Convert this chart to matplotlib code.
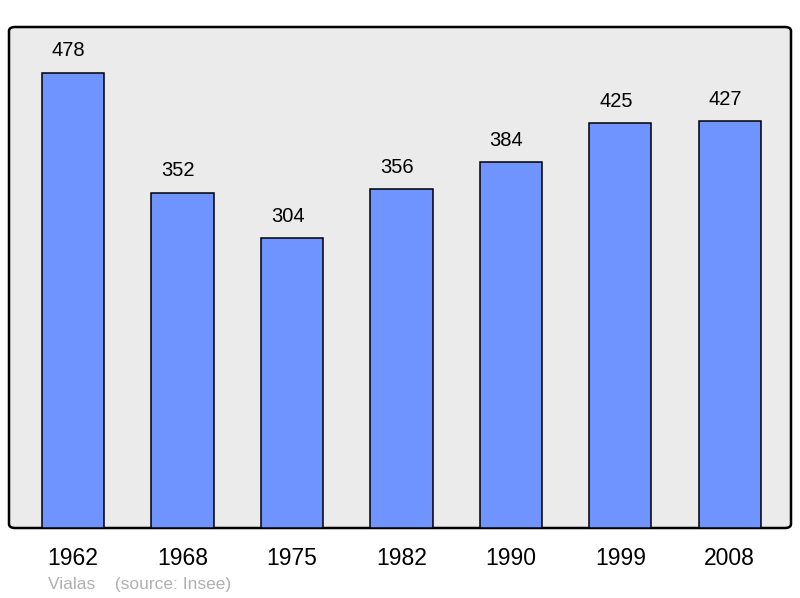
import matplotlib.pyplot as plt
from matplotlib.patches import FancyBboxPatch

years = ["1962", "1968", "1975", "1982", "1990", "1999", "2008"]
population = [478, 352, 304, 356, 384, 425, 427]

plt.rcParams['font.family'] = ['Liberation Sans', 'DejaVu Sans']

fig = plt.figure(figsize=(8, 5.98), dpi=100)
# axes box in pixels: left 9, right 791, top 27, bottom 528
ax = fig.add_axes([9 / 800, 1 - 528 / 598, 782 / 800, 501 / 598])

ax.set_xlim(-0.585, len(years) - 1 + 0.56)
ax.set_ylim(0, 526)

# rounded background frame
bg = FancyBboxPatch((0, 0), 1, 1, boxstyle="round,pad=0,rounding_size=0.008",
                    transform=ax.transAxes, facecolor="#ebebeb", edgecolor="black",
                    linewidth=1.8, zorder=0, clip_on=False)
ax.add_patch(bg)
ax.patch.set_visible(False)
for s in ax.spines.values():
    s.set_visible(False)

x = range(len(years))
ax.bar(x, population, width=0.57, color="#7094ff", edgecolor="black", linewidth=1.1, zorder=2)
for xi, v in zip(x, population):
    ax.text(xi - 0.04, v + 23, str(v), ha="center", va="center", fontsize=14.5, zorder=3)

ax.set_xticks(list(x))
ax.set_xticklabels(years, fontsize=16.5)
ax.tick_params(axis="x", length=0, pad=14)
ax.set_yticks([])

fig.text(48 / 800, 1 - 584 / 598, "Vialas    (source: Insee)", color="#b0b0b0",
         fontsize=12.5, va="center", ha="left")

fig.savefig("out.png", dpi=100)
